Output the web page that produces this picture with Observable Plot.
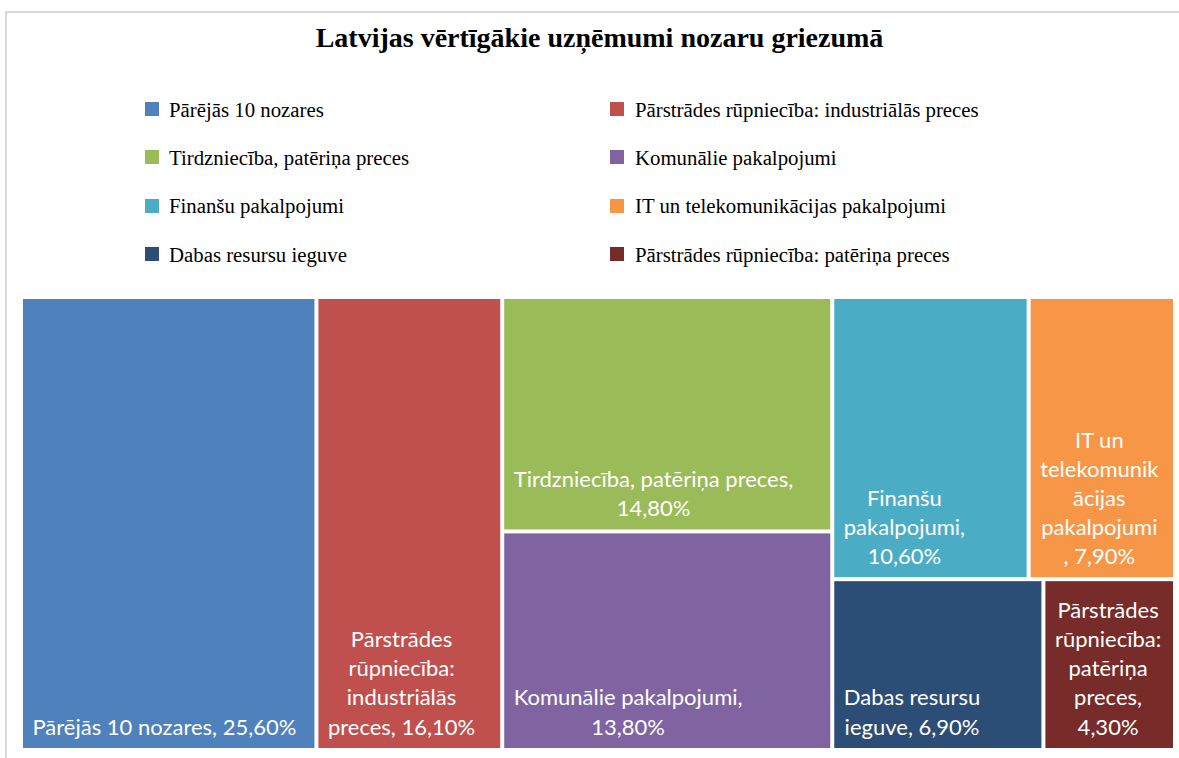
<!DOCTYPE html>
<html><head><meta charset="utf-8">
<script src="https://cdn.jsdelivr.net/npm/d3@7"></script>
<script src="https://cdn.jsdelivr.net/npm/@observablehq/plot@0.6"></script>
<style>
html,body{margin:0;padding:0;background:#fff;overflow:hidden;width:1179px;height:758px}
#frame{position:absolute;left:5px;top:11px;width:1300px;height:900px;border:2px solid #d9d9d9;box-sizing:border-box;z-index:10;pointer-events:none}
#header{position:relative;height:290px;width:1179px}
#title{position:absolute;left:0;width:1199px;top:23.5px;text-align:center;font:bold 28px/28px "Liberation Serif","Times New Roman",serif;color:#000;white-space:nowrap}
.item{position:absolute;font:20.8px/20.8px "Liberation Serif","Times New Roman",serif;color:#000;white-space:nowrap}
.sw{position:absolute;width:14px;height:14px}
#chart{position:relative;height:468px}
</style></head>
<body>
<div id="frame"></div>
<div id="header"><div id="title"></div></div>
<div id="chart"></div>
<script>
const chartTitle = "Latvijas vērtīgākie uzņēmumi nozaru griezumā";
const categories = [
  "Pārējās 10 nozares",
  "Pārstrādes rūpniecība: industriālās preces",
  "Tirdzniecība, patēriņa preces",
  "Komunālie pakalpojumi",
  "Finanšu pakalpojumi",
  "IT un telekomunikācijas pakalpojumi",
  "Dabas resursu ieguve",
  "Pārstrādes rūpniecība: patēriņa preces"
];
const shares = [25.6, 16.1, 14.8, 13.8, 10.6, 7.9, 6.9, 4.3];
const colors = ["#4F81BD", "#C0504D", "#9BBB59", "#8064A2", "#4BACC6", "#F79646", "#2C4D75", "#772C2A"];
// treemap grouping: vertical strip, and row inside strip
const stripOf = [0, 1, 2, 2, 3, 3, 3, 3];
const rowOf = [0, 0, 0, 1, 0, 0, 1, 1];
const labelLines = [
  ["Pārējās 10 nozares, 25,60%"],
  ["Pārstrādes", "rūpniecība:", "industriālās", "preces, 16,10%"],
  ["Tirdzniecība, patēriņa preces,", "14,80%"],
  ["Komunālie pakalpojumi,", "13,80%"],
  ["Finanšu", "pakalpojumi,", "10,60%"],
  ["IT un", "telekomunik", "ācijas", "pakalpojumi", ", 7,90%"],
  ["Dabas resursu", "ieguve, 6,90%"],
  ["Pārstrādes", "rūpniecība:", "patēriņa", "preces,", "4,30%"]
];

// title + legend
document.getElementById("title").textContent = chartTitle;
const header = document.getElementById("header");
categories.forEach((name, i) => {
  const col = i % 2, row = Math.floor(i / 2);
  const sw = document.createElement("div");
  sw.className = "sw";
  sw.style.background = colors[i];
  sw.style.left = (col ? 610 : 145) + "px";
  sw.style.top = (102 + row * 48.3) + "px";
  header.appendChild(sw);
  const t = document.createElement("div");
  t.className = "item";
  t.textContent = name;
  t.style.left = (col ? 635 : 169) + "px";
  t.style.top = (99.6 + row * 48.3) + "px";
  header.appendChild(t);
});

// treemap layout
const W = 1150, H = 449;
const rows = categories.map((name, i) => ({i, name, value: shares[i], strip: stripOf[i], row: rowOf[i]}));
const root = d3.hierarchy(d3.group(rows, d => d.strip, d => d.row)).sum(d => d.value || 0);
const tile = (node, x0, y0, x1, y1) => (node.depth === 1 ? d3.treemapSlice : d3.treemapDice)(node, x0, y0, x1, y1);
d3.treemap().tile(tile).size([W, H]).paddingInner(4)(root);
const leaves = root.leaves();

const labelSize = 22;
const ctx = document.createElement("canvas").getContext("2d");
ctx.font = labelSize + "px Lato";
const blockW = leaves.map(l => d3.max(labelLines[l.data.i], s => ctx.measureText(s).width));
const pad = 9;

const plot = Plot.plot({
  width: 1179,
  height: 468,
  x: {domain: [0, W], range: [23, 1173], axis: null},
  y: {domain: [0, H], range: [9, 458], axis: null},
  color: {domain: categories, range: colors},
  marks: [
    Plot.rect(leaves, {x1: d => d.x0, x2: d => d.x1, y1: d => d.y0, y2: d => d.y1, fill: d => d.data.name}),
    Plot.text(leaves, {
      x: (d, j) => d.x0 + pad + blockW[j] / 2,
      y: d => d.y1,
      text: d => labelLines[d.data.i].join("\n"),
      fill: "white",
      fontSize: labelSize,
      fontFamily: "Lato",
      lineHeight: 1.32,
      lineAnchor: "bottom",
      textAnchor: "middle",
      dy: -14
    })
  ]
});
plot.style.background = "transparent";
document.getElementById("chart").appendChild(plot);
</script>
</body></html>
